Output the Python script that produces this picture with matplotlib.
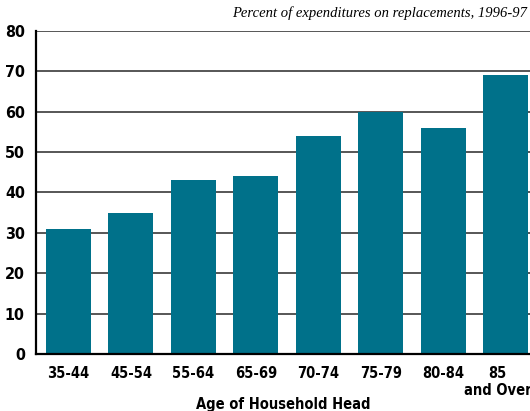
import matplotlib
matplotlib.use("Agg")
import matplotlib.pyplot as plt
import matplotlib.transforms as mtransforms
import numpy as np

# data
age_groups = ["35-44", "45-54", "55-64", "65-69", "70-74", "75-79", "80-84", "85\nand Over"]
pct_replacements = [31, 35, 43, 44, 54, 60, 56, 69]
y_ticks = [0, 10, 20, 30, 40, 50, 60, 70, 80]

bar_color = "#00718a"
lab_font = dict(family="DejaVu Sans", fontstretch="condensed", fontweight="bold")

fig = plt.figure(figsize=(5.3, 4.11), dpi=100)
ax = fig.add_axes([36 / 530, 1 - 354 / 411, 1 - 36 / 530, (354 - 31) / 411])

x = np.arange(len(age_groups))
ax.bar(x, pct_replacements, width=0.72, color=bar_color, zorder=3)

ax.set_ylim(0, 80)
ax.set_xlim(-0.52, 7.39)
ax.set_yticks(y_ticks)
ax.set_xticks(x)
ax.set_xticklabels(age_groups, fontsize=10.5, linespacing=1.1, **lab_font)
ax.set_yticklabels([str(v) for v in y_ticks], fontsize=11.5, **lab_font)
ax.tick_params(length=0)
ax.tick_params(axis="y", pad=8)
ax.tick_params(axis="x", pad=9)

# pull the two-line last label in so it stays inside the figure
last = ax.get_xticklabels()[-1]
last.set_transform(last.get_transform() + mtransforms.ScaledTranslation(-8 / 100, 0, fig.dpi_scale_trans))

for v in y_ticks[1:]:
    ax.axhline(v, color="#3a3a3a", lw=1.2, zorder=1)

for s in ["top", "right"]:
    ax.spines[s].set_visible(False)
for s in ["left", "bottom"]:
    ax.spines[s].set_linewidth(1.6)
    ax.spines[s].set_color("black")
    ax.spines[s].set_zorder(4)

fig.text(283 / 530, 1 - 404 / 411, "Age of Household Head", ha="center", va="center",
         fontsize=10.5, **lab_font)
fig.text(527 / 530, 1 - 13 / 411, "Percent of expenditures on replacements, 1996-97",
         ha="right", va="center", fontsize=10.5, family="Liberation Serif", style="italic")

fig.savefig("out.png", dpi=100)
